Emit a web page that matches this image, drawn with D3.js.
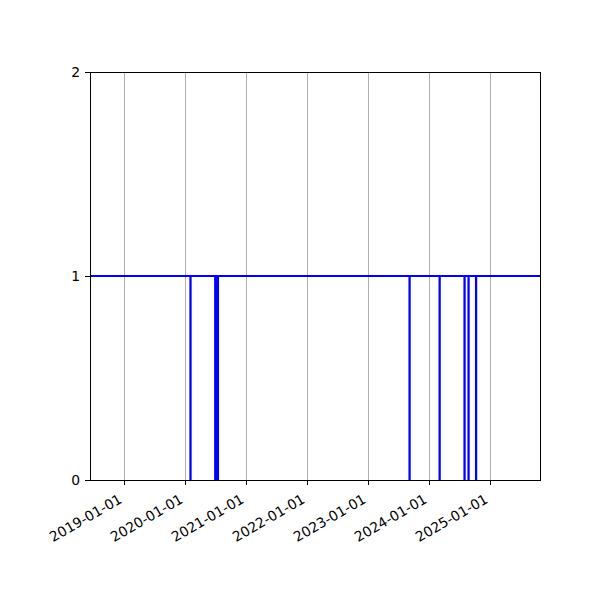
<!DOCTYPE html>
<html>
<head>
<meta charset="utf-8">
<script src="https://cdn.jsdelivr.net/npm/d3@7"></script>
<style>
  body { margin: 0; background: #fff; }
  text { font-family: "DejaVu Sans", sans-serif; font-size: 13.9px; fill: #000; }
</style>
</head>
<body>
<script>
// step series: 1 most of the time, short drops to 0
const dates = [
  "2018-06-12", "2020-02-03", "2020-02-04",
  "2020-06-30", "2020-07-01", "2020-07-08", "2020-07-09", "2020-07-16", "2020-07-17",
  "2023-09-06", "2023-09-07", "2024-03-04", "2024-03-05",
  "2024-07-31", "2024-08-01", "2024-08-24", "2024-08-25",
  "2024-10-08", "2024-10-09", "2025-10-26"
];
const values = [
  1, 0, 1,
  0, 1, 0, 1, 0, 1,
  0, 1, 0, 1,
  0, 1, 0, 1,
  0, 1, 1
];
const xTicks = ["2019-01-01", "2020-01-01", "2021-01-01", "2022-01-01", "2023-01-01", "2024-01-01", "2025-01-01"];
const yTicks = [0, 1, 2];
const xRange = ["2018-06-12", "2025-10-26"];

const width = 600, height = 600;
const margin = {top: 72, right: 60, bottom: 120, left: 90};
const parse = d3.utcParse("%Y-%m-%d");

const data = dates.map((d, i) => ({date: parse(d), value: values[i]}));

const svg = d3.select("body").append("svg")
    .attr("width", width)
    .attr("height", height);

svg.append("rect").attr("width", width).attr("height", height).attr("fill", "#fff");

const x = d3.scaleUtc()
    .domain(xRange.map(parse))
    .range([margin.left, width - margin.right]);

const y = d3.scaleLinear()
    .domain([0, 2])
    .range([height - margin.bottom, margin.top]);

// vertical grid, snapped to pixel columns
const px = d => Math.round(x(parse(d))) + 0.5;
svg.append("g")
  .selectAll("line")
  .data(xTicks)
  .join("line")
    .attr("x1", px).attr("x2", px)
    .attr("y1", y(0)).attr("y2", y(2))
    .attr("stroke", "#b0b0b0")
    .attr("stroke-width", 1)
    .attr("shape-rendering", "crispEdges");

// the line
const line = d3.line()
    .x(d => x(d.date))
    .y(d => y(d.value))
    .curve(d3.curveStepAfter);

svg.append("path")
    .datum(data)
    .attr("fill", "none")
    .attr("stroke", "#0000ff")
    .attr("stroke-width", 2.1)
    .attr("d", line);

// frame
svg.append("rect")
    .attr("x", margin.left).attr("y", margin.top)
    .attr("width", width - margin.left - margin.right)
    .attr("height", height - margin.top - margin.bottom)
    .attr("fill", "none")
    .attr("stroke", "#000")
    .attr("stroke-width", 1)
    .attr("shape-rendering", "crispEdges");

// x axis
const xAxis = svg.append("g")
    .attr("transform", `translate(0,${y(0)})`)
    .call(d3.axisBottom(x)
      .tickValues(xTicks.map(parse))
      .tickFormat(d3.utcFormat("%Y-%m-%d"))
      .tickSize(4.9)
      .tickPadding(0));
xAxis.select(".domain").remove();
xAxis.selectAll(".tick").attr("transform", d => `translate(${Math.round(x(d))},0)`);
xAxis.selectAll("line").attr("stroke", "#000").attr("stroke-width", 1)
    .attr("x1", 0.5).attr("x2", 0.5)
    .attr("shape-rendering", "crispEdges");
xAxis.selectAll("text")
    .attr("font-family", "DejaVu Sans")
    .attr("font-size", 13.9)
    .attr("text-anchor", "end")
    .attr("y", 0)
    .attr("dy", 0)
    .attr("transform", "translate(-1,22) rotate(-30)");

// y axis
const yAxis = svg.append("g")
    .attr("transform", `translate(${margin.left},0)`)
    .call(d3.axisLeft(y)
      .tickValues(yTicks)
      .tickFormat(d3.format("d"))
      .tickSize(4.9)
      .tickPadding(4.9));
yAxis.select(".domain").remove();
yAxis.selectAll("line").attr("stroke", "#000").attr("stroke-width", 1)
    .attr("shape-rendering", "crispEdges");
yAxis.selectAll("text")
    .attr("font-family", "DejaVu Sans")
    .attr("font-size", 13.9);
</script>
</body>
</html>
